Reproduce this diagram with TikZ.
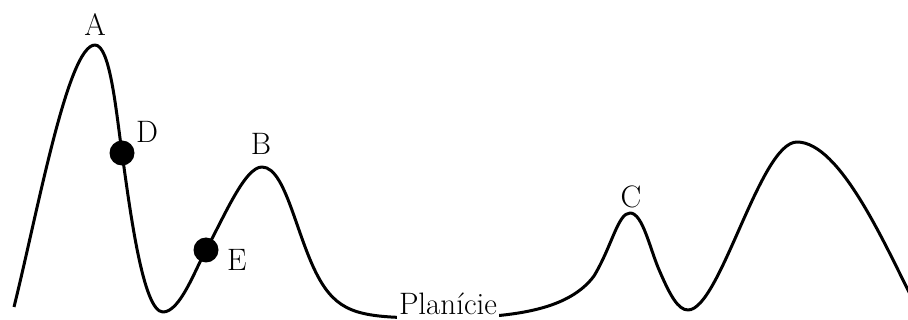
\documentclass[tikz,border=0pt]{standalone}
\begin{document}
\begin{tikzpicture}[x=1pt,y=-1pt,
  curve/.style={line width=3pt,line join=round},
  dot/.style={circle,fill=black,inner sep=0pt,minimum size=25pt},
  lbl/.style={inner sep=0pt,anchor=base,font=\fontsize{31}{31}\selectfont}]
\useasboundingbox (0,0) rectangle (908,320);
\clip (0,0) rectangle (908,320);
\draw[curve] (14,307) .. controls (38,210) and (68,45) .. (95,45)
  .. controls (110,45) and (116,110) .. (122,153)
  .. controls (130,210) and (143,312) .. (163,312)
  .. controls (180,312) and (195,270) .. (206,250)
  .. controls (225,215) and (245,167) .. (262,167)
  .. controls (288,167) and (298,250) .. (325,288)
  .. controls (345,316) and (370,318) .. (440,318)
  .. controls (520,318) and (570,308) .. (594,276)
  .. controls (612,246) and (618,213) .. (630,213)
  .. controls (643,213) and (650,250) .. (660,272)
  .. controls (670,295) and (678,310) .. (688,310)
  .. controls (720,310) and (760,142) .. (797,142)
  .. controls (840,142) and (885,245) .. (912,298);
\node[dot] (d) at (122,153) {};
\node[dot] (e) at (206,250) {};
\node[lbl] (la) at (95,36) {A};
\node[lbl,anchor=base west] (ld) at (136,143) {D};
\node[lbl,anchor=base west] (le) at (227,271) {E};
\node[lbl] (lb) at (261,155) {B};
\node[lbl] (lc) at (631,208) {C};
\node[lbl,fill=white,inner xsep=2pt,text depth=6pt] (lp) at (448,315) {Planície};
\end{tikzpicture}
\end{document}
